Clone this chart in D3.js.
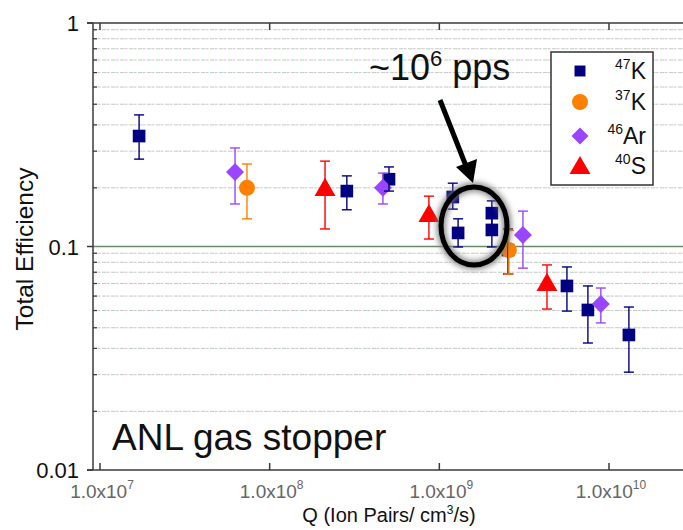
<!DOCTYPE html>
<html>
<head>
<meta charset="utf-8">
<script src="https://cdn.jsdelivr.net/npm/d3@7"></script>
<style>
  body { margin: 0; background: #fff; }
  svg { display: block; font-family: Arial, "Liberation Sans", sans-serif; }
</style>
</head>
<body>
<svg id="chart" width="683" height="530"></svg>
<script>
// values (Q in ion pairs/cm3/s, efficiency, error low/high)
const k47Q  = [1.70e7, 2.85e8, 5.05e8, 1.20e9, 1.29e9, 2.04e9, 2.04e9, 2.54e9, 5.65e9, 7.51e9, 1.31e10];
const k47E  = [0.312, 0.177, 0.200, 0.1665, 0.115, 0.141, 0.1186, 0.0964, 0.0666, 0.052, 0.0402];
const k47Lo = [0.246, 0.146, 0.177, 0.147, 0.0995, 0.124, 0.0995, 0.0753, 0.0514, 0.037, 0.0274];
const k47Hi = [0.388, 0.207, 0.227, 0.192, 0.133, 0.160, 0.136, 0.1198, 0.081, 0.0666, 0.0536];

const k37Q  = [7.35e7, 2.57e9];
const k37E  = [0.183, 0.0964];
const k37Lo = [0.133, 0.0753];
const k37Hi = [0.234, 0.118];

const ar46Q  = [6.25e7, 4.65e8, 3.11e9, 8.95e9];
const ar46E  = [0.2155, 0.183, 0.1126, 0.0553];
const ar46Lo = [0.155, 0.155, 0.080, 0.0455];
const ar46Hi = [0.276, 0.213, 0.144, 0.0652];

const s40Q  = [2.12e8, 8.68e8, 4.31e9];
const s40E  = [0.183, 0.1398, 0.0687];
const s40Lo = [0.1198, 0.108, 0.0525];
const s40Hi = [0.241, 0.168, 0.0827];

const xTicks = [1e7, 1e8, 1e9, 1e10];
const xTickExp = ["7", "8", "9", "10"];
const yTicks = [1, 0.1, 0.01];
const yTickLabels = ["1", "0.1", "0.01"];
const yMinorGrid = [0.0183, 0.0267, 0.035, 0.0433, 0.0517, 0.06, 0.0683, 0.0767, 0.085, 0.0933,
                    0.183, 0.267, 0.35, 0.433, 0.517, 0.6, 0.683, 0.767, 0.85, 0.933];

const series = [
  { name: "47", el: "K",  color: "#000080", shape: "square",   q: k47Q,  e: k47E,  lo: k47Lo,  hi: k47Hi },
  { name: "37", el: "K",  color: "#FF8000", shape: "circle",   q: k37Q,  e: k37E,  lo: k37Lo,  hi: k37Hi },
  { name: "46", el: "Ar", color: "#9A45FF", shape: "diamond",  q: ar46Q, e: ar46E, lo: ar46Lo, hi: ar46Hi },
  { name: "40", el: "S",  color: "#FF0000", shape: "triangle", q: s40Q,  e: s40E,  lo: s40Lo,  hi: s40Hi }
];

const svg = d3.select("#chart");
const plot = { left: 93, right: 690, top: 23, bottom: 470 };

// x: anchor on the decade ticks, then stretch to the plot frame
const x = d3.scaleLog().domain([1e7, 1e10]).range([100, 609]);
x.domain([x.invert(plot.left), x.invert(plot.right)]).range([plot.left, plot.right]);
const y = d3.scaleLog().domain([0.01, 1]).range([plot.bottom, plot.top]);

const defs = svg.append("defs");
defs.append("filter").attr("id", "blur")
  .attr("x", "-30%").attr("y", "-30%").attr("width", "160%").attr("height", "160%")
  .append("feGaussianBlur").attr("stdDeviation", 3);

// ---------------------------
// grid
// ---------------------------
const grid = svg.append("g");
yMinorGrid.forEach(v => {
  grid.append("line")
    .attr("x1", plot.left).attr("x2", plot.right)
    .attr("y1", y(v)).attr("y2", y(v))
    .attr("stroke", "#b4d4b4").attr("stroke-width", 1)
    .attr("stroke-dasharray", "4 5");
  grid.append("line")
    .attr("x1", plot.left).attr("x2", plot.right)
    .attr("y1", y(v)).attr("y2", y(v))
    .attr("stroke", "#dcbcdc").attr("stroke-width", 1)
    .attr("stroke-dasharray", "3 6").attr("stroke-dashoffset", 4.5);
});
grid.append("line")
  .attr("x1", plot.left).attr("x2", plot.right)
  .attr("y1", y(0.1)).attr("y2", y(0.1))
  .attr("stroke", "#6a8a6a").attr("stroke-width", 1.3);

// ---------------------------
// axes
// ---------------------------
const axisColor = "#3a3a3a";
const axes = svg.append("g").attr("stroke", axisColor).attr("stroke-width", 1.5);
axes.append("line").attr("x1", plot.left).attr("x2", plot.left).attr("y1", plot.top).attr("y2", plot.bottom);
axes.append("line").attr("x1", plot.left - 6).attr("x2", plot.right).attr("y1", plot.bottom).attr("y2", plot.bottom);
axes.append("line").attr("x1", plot.left - 6).attr("x2", plot.right).attr("y1", plot.top).attr("y2", plot.top);

yTicks.forEach(v => {
  axes.append("line").attr("x1", plot.left - 6).attr("x2", plot.left).attr("y1", y(v)).attr("y2", y(v));
});
yMinorGrid.forEach(v => {
  axes.append("line").attr("x1", plot.left).attr("x2", plot.left + 4)
    .attr("y1", y(v)).attr("y2", y(v)).attr("stroke-width", 1.2);
});
xTicks.forEach(v => {
  axes.append("line").attr("x1", x(v)).attr("x2", x(v)).attr("y1", plot.bottom).attr("y2", plot.bottom - 7);
  axes.append("line").attr("x1", x(v)).attr("x2", x(v)).attr("y1", plot.top).attr("y2", plot.top + 7);
});

svg.append("g").selectAll("text")
  .data(yTicks)
  .join("text")
  .attr("x", 79)
  .attr("y", d => y(d) + 8)
  .attr("text-anchor", "end")
  .attr("font-size", 22)
  .attr("fill", "#111")
  .text((d, i) => yTickLabels[i]);

const xLab = svg.append("g").selectAll("text")
  .data(xTicks)
  .join("text")
  .attr("x", d => x(d) + 2)
  .attr("y", 498)
  .attr("text-anchor", "middle")
  .attr("fill", "#666")
  .attr("font-size", 19);
xLab.append("tspan").text("1.0x10");
xLab.append("tspan").attr("font-size", 12).attr("dy", -9).text((d, i) => xTickExp[i]);

// axis titles
const xTitle = svg.append("text")
  .attr("x", 389).attr("y", 522)
  .attr("text-anchor", "middle")
  .attr("font-size", 20).attr("fill", "#111");
xTitle.append("tspan").text("Q (Ion Pairs/ cm");
xTitle.append("tspan").attr("font-size", 12).attr("dy", -8).text("3");
xTitle.append("tspan").attr("dy", 8).text("/s)");

svg.append("text")
  .attr("transform", "translate(33,249) rotate(-90)")
  .attr("text-anchor", "middle")
  .attr("font-size", 24.5).attr("fill", "#111")
  .text("Total Efficiency");

// ---------------------------
// symbols
// ---------------------------
function symbolPath(shape, big) {
  if (shape === "diamond") {
    const r = big ? 9 : 8.5;
    return `M0,${-r}L${r},0L0,${r}L${-r},0Z`;
  }
  const sizes = big
    ? { square: 160, circle: 200, triangle: 190 }
    : { square: 120, circle: 200, triangle: 190 };
  const types = { square: d3.symbolSquare, circle: d3.symbolCircle, triangle: d3.symbolTriangle };
  return d3.symbol().type(types[shape]).size(sizes[shape])();
}

const pts = svg.append("g");
series.forEach(s => {
  const rows = s.q.map((q, i) => ({ q, e: s.e[i], lo: s.lo[i], hi: s.hi[i] }));
  pts.append("g").selectAll("path")
    .data(rows)
    .join("path")
    .attr("d", symbolPath(s.shape, true))
    .attr("transform", d => `translate(${x(d.q)},${y(d.e) + (s.shape === "triangle" ? 2 : 0)})`)
    .attr("fill", s.color);
});

// error bars drawn over the symbols
const bars = svg.append("g").attr("stroke-width", 1.4);
series.forEach(s => {
  s.q.forEach((q, i) => {
    const cx = x(q);
    const g = bars.append("g").attr("stroke", s.color);
    g.append("line").attr("x1", cx).attr("x2", cx).attr("y1", y(s.hi[i])).attr("y2", y(s.lo[i]));
    g.append("line").attr("x1", cx - 5).attr("x2", cx + 5).attr("y1", y(s.hi[i])).attr("y2", y(s.hi[i]));
    g.append("line").attr("x1", cx - 5).attr("x2", cx + 5).attr("y1", y(s.lo[i])).attr("y2", y(s.lo[i]));
  });
});

// ---------------------------
// legend
// ---------------------------
const legend = svg.append("g");
legend.append("rect")
  .attr("x", 551).attr("y", 52).attr("width", 102).attr("height", 133)
  .attr("fill", "#fff").attr("stroke", "#333").attr("stroke-width", 1.5);
const legendY = [71, 102, 136, 166];
series.forEach((s, i) => {
  legend.append("path")
    .attr("d", symbolPath(s.shape, false))
    .attr("transform", `translate(580,${legendY[i] + (s.shape === "triangle" ? 2 : 0)})`)
    .attr("fill", s.color);
  const t = legend.append("text")
    .attr("x", 646).attr("y", legendY[i] + 8)
    .attr("text-anchor", "end").attr("fill", "#111");
  t.append("tspan").attr("font-size", 14).attr("dy", -10).text(s.name);
  t.append("tspan").attr("font-size", 23).attr("dy", 10).text(s.el);
});

// ---------------------------
// annotations
// ---------------------------
const ann = svg.append("g");
ann.append("ellipse")
  .attr("cx", 474).attr("cy", 226).attr("rx", 33).attr("ry", 39)
  .attr("fill", "none").attr("stroke", "#777").attr("stroke-width", 8)
  .attr("filter", "url(#blur)");
ann.append("ellipse")
  .attr("cx", 474).attr("cy", 226).attr("rx", 33).attr("ry", 39)
  .attr("fill", "none").attr("stroke", "#000").attr("stroke-width", 5);

ann.append("line")
  .attr("x1", 440).attr("y1", 100).attr("x2", 466).attr("y2", 166)
  .attr("stroke", "#000").attr("stroke-width", 5);
ann.append("path")
  .attr("d", "M473,183 L456,167 L477,159 Z")
  .attr("fill", "#000");

const pps = ann.append("text")
  .attr("x", 369).attr("y", 80)
  .attr("font-size", 36).attr("fill", "#111");
pps.append("tspan").text("~10");
pps.append("tspan").attr("font-size", 22).attr("dy", -14).text("6");
pps.append("tspan").attr("dy", 14).text(" pps");

ann.append("text")
  .attr("x", 112).attr("y", 450)
  .attr("font-size", 37).attr("fill", "#111")
  .text("ANL gas stopper");
</script>
</body>
</html>
